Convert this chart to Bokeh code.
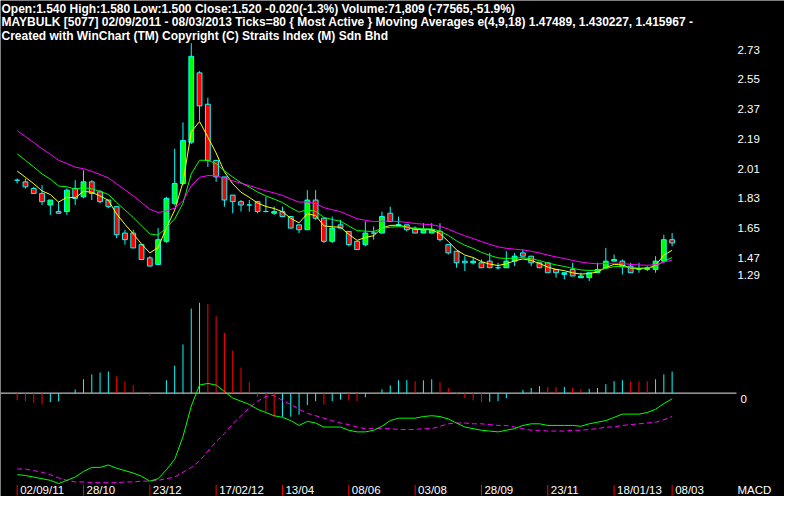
import numpy as np
from bokeh.plotting import figure
from bokeh.models import Range1d, ColumnDataSource
from bokeh.core.properties import value
from bokeh.embed import file_html
from bokeh.resources import INLINE

# ---------------- data ----------------
header_lines = [
    "Open:1.540  High:1.580  Low:1.500  Close:1.520  -0.020(-1.3%)  Volume:71,809 (-77565,-51.9%)",
    "MAYBULK [5077]  02/09/2011 - 08/03/2013  Ticks=80  { Most Active } Moving Averages e(4,9,18) 1.47489,  1.430227,  1.415967 -",
    "Created with WinChart (TM)  Copyright (C) Straits Index (M) Sdn Bhd",
]

opens = [1.90, 1.89, 1.85, 1.82, 1.75, 1.71, 1.71, 1.85, 1.80, 1.89,
         1.83, 1.78, 1.74, 1.58, 1.58, 1.51, 1.43, 1.39, 1.53, 1.76,
         1.88, 2.13, 2.55, 2.36, 2.02, 1.92, 1.81, 1.77, 1.75, 1.77,
         1.71, 1.70, 1.71, 1.68, 1.63, 1.60, 1.78, 1.67, 1.53, 1.63,
         1.59, 1.53, 1.51, 1.58, 1.58, 1.70, 1.63, 1.63, 1.61, 1.58,
         1.58, 1.59, 1.51, 1.47, 1.41, 1.40, 1.40, 1.41, 1.37, 1.37,
         1.41, 1.46, 1.44, 1.40, 1.40, 1.36, 1.33, 1.36, 1.31, 1.31,
         1.34, 1.37, 1.41, 1.41, 1.38, 1.36, 1.36, 1.36, 1.41, 1.54]
highs = [1.91, 1.91, 1.86, 1.87, 1.78, 1.77, 1.85, 1.90, 1.96, 1.90,
         1.84, 1.78, 1.74, 1.60, 1.60, 1.51, 1.44, 1.61, 1.80, 2.09,
         2.25, 2.73, 2.56, 2.40, 2.02, 1.92, 1.81, 1.78, 1.78, 1.77,
         1.80, 1.74, 1.74, 1.68, 1.63, 1.84, 1.84, 1.67, 1.68, 1.66,
         1.59, 1.53, 1.65, 1.62, 1.71, 1.74, 1.68, 1.63, 1.62, 1.64,
         1.64, 1.64, 1.51, 1.47, 1.44, 1.43, 1.42, 1.46, 1.40, 1.47,
         1.46, 1.48, 1.44, 1.40, 1.40, 1.36, 1.34, 1.40, 1.34, 1.34,
         1.40, 1.49, 1.45, 1.42, 1.40, 1.40, 1.38, 1.44, 1.57, 1.58]
lows = [1.88, 1.85, 1.82, 1.75, 1.69, 1.70, 1.69, 1.75, 1.79, 1.78,
        1.76, 1.73, 1.55, 1.51, 1.49, 1.42, 1.38, 1.39, 1.52, 1.75,
        1.87, 2.12, 2.26, 1.98, 1.89, 1.74, 1.70, 1.71, 1.71, 1.70,
        1.71, 1.69, 1.68, 1.61, 1.58, 1.60, 1.66, 1.52, 1.52, 1.61,
        1.50, 1.48, 1.50, 1.54, 1.58, 1.65, 1.62, 1.59, 1.58, 1.58,
        1.58, 1.53, 1.45, 1.37, 1.35, 1.39, 1.37, 1.37, 1.36, 1.37,
        1.38, 1.44, 1.38, 1.37, 1.34, 1.31, 1.30, 1.32, 1.31, 1.29,
        1.34, 1.37, 1.41, 1.33, 1.34, 1.34, 1.35, 1.34, 1.40, 1.50]
closes = [1.90, 1.86, 1.82, 1.77, 1.78, 1.70, 1.84, 1.79, 1.89, 1.82,
          1.77, 1.74, 1.57, 1.54, 1.49, 1.42, 1.38, 1.54, 1.79, 1.88,
          2.14, 2.65, 2.35, 2.02, 1.92, 1.78, 1.77, 1.75, 1.75, 1.71,
          1.71, 1.71, 1.68, 1.61, 1.60, 1.78, 1.67, 1.53, 1.61, 1.61,
          1.51, 1.48, 1.58, 1.58, 1.68, 1.65, 1.63, 1.60, 1.58, 1.60,
          1.60, 1.54, 1.46, 1.40, 1.40, 1.41, 1.37, 1.37, 1.37, 1.41,
          1.44, 1.44, 1.40, 1.37, 1.34, 1.34, 1.34, 1.32, 1.32, 1.34,
          1.36, 1.41, 1.42, 1.38, 1.34, 1.36, 1.37, 1.41, 1.54, 1.52]

# exponential moving averages e(4,9,18); starting levels
ema_periods = [4, 9, 18]
ema_start = [1.956, 2.060, 2.200]
ema_colors = ["#FFFF00", "#00FF00", "#FF00FF"]

macd_line = [-0.101, -0.102, -0.104, -0.106, -0.108, -0.112, -0.108, -0.104, -0.097, -0.092,
             -0.092, -0.089, -0.093, -0.096, -0.099, -0.103, -0.109, -0.106, -0.095, -0.082,
             -0.054, -0.016, 0.010, 0.012, 0.010, 0.002, -0.006, -0.010, -0.014, -0.020,
             -0.024, -0.028, -0.030, -0.034, -0.040, -0.035, -0.037, -0.042, -0.042, -0.042,
             -0.046, -0.048, -0.048, -0.046, -0.041, -0.034, -0.031, -0.031, -0.031, -0.029,
             -0.028, -0.029, -0.032, -0.037, -0.042, -0.044, -0.046, -0.047, -0.048, -0.046,
             -0.044, -0.040, -0.038, -0.038, -0.040, -0.040, -0.040, -0.040, -0.041, -0.038,
             -0.036, -0.034, -0.030, -0.026, -0.026, -0.026, -0.024, -0.020, -0.013, -0.007]
macd_signal = [-0.094, -0.094, -0.096, -0.098, -0.101, -0.105, -0.108, -0.110, -0.110, -0.111,
               -0.111, -0.111, -0.111, -0.110, -0.110, -0.109, -0.109, -0.108, -0.106, -0.104,
               -0.098, -0.092, -0.084, -0.072, -0.060, -0.050, -0.038, -0.028, -0.018, -0.010,
               -0.004, -0.003, -0.009, -0.014, -0.020, -0.025, -0.028, -0.031, -0.034, -0.037,
               -0.039, -0.042, -0.044, -0.044, -0.044, -0.044, -0.045, -0.045, -0.045, -0.044,
               -0.044, -0.041, -0.038, -0.037, -0.037, -0.038, -0.038, -0.039, -0.040, -0.040,
               -0.042, -0.044, -0.046, -0.046, -0.047, -0.047, -0.047, -0.046, -0.046, -0.045,
               -0.044, -0.042, -0.042, -0.040, -0.039, -0.038, -0.037, -0.036, -0.033, -0.029]
macd_hist = [-0.0073, -0.0083, -0.0103, -0.0117, -0.0093, -0.0083, 0.0003, 0.0037, 0.0143, 0.0193,
             0.0213, 0.0223, 0.0173, 0.0123, 0.0083, 0.0017, -0.0023, 0.0003, 0.0133, 0.0283,
             0.0503, 0.0873, 0.0933, 0.0920, 0.0793, 0.0623, 0.0440, 0.0263, 0.0113, -0.0037,
             -0.0197, -0.0250, -0.0245, -0.0243, -0.0223, -0.0123, -0.0083, -0.0117, -0.0083, -0.0067,
             -0.0077, -0.0083, -0.0043, -0.0003, 0.0040, 0.0080, 0.0133, 0.0134, 0.0123, 0.0133,
             0.0143, 0.0113, 0.0053, -0.0013, -0.0053, -0.0073, -0.0093, -0.0090, -0.0083, -0.0053,
             -0.0003, 0.0033, 0.0053, 0.0073, 0.0063, 0.0062, 0.0064, 0.0053, 0.0043, 0.0044,
             0.0053, 0.0093, 0.0123, 0.0133, 0.0123, 0.0122, 0.0121, 0.0143, 0.0193, 0.0223]

date_index = [0, 8, 16, 24, 32, 40, 48, 56, 64, 72, 79]
date_labels = ["02/09/11", "28/10", "23/12", "17/02/12", "13/04", "08/06",
               "03/08", "28/09", "23/11", "18/01/13", "08/03"]
price_ticks = [2.73, 2.55, 2.37, 2.19, 2.01, 1.83, 1.65, 1.47, 1.29]
price_tick_labels = ["2.73", "2.55", "2.37", "2.19", "2.01", "1.83", "1.65", "1.47", "1.29"]
hist_tick_labels = ["0"]
panel_label = "MACD"

# ---------------- layout geometry (reference pixels) ----------------
REF_W, REF_H = 800, 512
W, H = 784, 496
X0_PX, STEP_PX = 17.0, 8.46
PRICE_TOP_PX, PRICE_PX_PER_UNIT = 44.0, 170.5
HIST_ZERO_PX, HIST_PX_PER_UNIT = 405.3, 1000.0
MACD_ZERO_PX, MACD_PX_PER_UNIT = 405.3, 833.3
LABEL_X_PX = 752
ZERO_LINE_END_PX = 751
FONT = value("Liberation Sans")

n = len(closes)
idx = np.arange(n)
o = np.array(opens); c = np.array(closes)


def ema(vals, period, start):
    a = 2.0 / (period + 1)
    out = [start]
    for v in vals[1:]:
        out.append(a * v + (1 - a) * out[-1])
    return out


top_price = price_ticks[0]
p = figure(width=W, height=H, output_backend="svg", toolbar_location=None,
           x_axis_type=None, y_axis_type=None, min_border=0,
           x_range=Range1d(-X0_PX / STEP_PX, (REF_W - X0_PX) / STEP_PX),
           y_range=Range1d(REF_H, 0),
           background_fill_color="black", border_fill_color="black",
           outline_line_color=None)
p.extra_x_ranges = {"ref": Range1d(0, REF_W)}
p.extra_y_ranges = {
    "price": Range1d(top_price - (REF_H - PRICE_TOP_PX) / PRICE_PX_PER_UNIT,
                     top_price + PRICE_TOP_PX / PRICE_PX_PER_UNIT),
    "hist": Range1d(-(REF_H - HIST_ZERO_PX) / HIST_PX_PER_UNIT, HIST_ZERO_PX / HIST_PX_PER_UNIT),
    "macd": Range1d(-(REF_H - MACD_ZERO_PX) / MACD_PX_PER_UNIT, MACD_ZERO_PX / MACD_PX_PER_UNIT),
}
p.grid.visible = False

# ---------------- header ----------------
p.text(x=[1, 1, 1], y=[9.0, 22.6, 36.2], text=header_lines, x_range_name="ref",
       text_color="white", text_font=FONT, text_font_style="bold",
       text_font_size="12px", text_baseline="alphabetic")

# ---------------- candles ----------------
csrc = ColumnDataSource(dict(
    x=idx, h=highs, l=lows,
    top=np.maximum(o, c), bottom=np.minimum(o, c),
    fill=np.where(c >= o, "#00FF00", "#FF0000"),
))
p.segment(x0="x", x1="x", y0="l", y1="h", source=csrc, y_range_name="price",
          line_color="#00FFFF", line_width=1)
p.vbar(x="x", width=0.58, top="top", bottom="bottom", source=csrc, y_range_name="price",
       fill_color="fill", line_color="#00FFFF", line_width=1)

for period, start, col in zip(ema_periods, ema_start, ema_colors):
    p.line(idx, ema(closes, period, start), y_range_name="price", line_color=col, line_width=1)

# price labels
offs = np.where(np.array(price_ticks) == min(price_ticks), -5.6, 6.5)
p.text(x=[LABEL_X_PX] * len(price_ticks), y=price_ticks, text=price_tick_labels,
       y_offset=offs, x_range_name="ref", y_range_name="price",
       text_color="white", text_font=FONT, text_font_size="11.5px",
       text_baseline="middle", text_align="left")

# ---------------- MACD panel ----------------
h = np.array(macd_hist)
rising = np.concatenate([[False], h[1:] > h[:-1]])
p.segment(x0=[0], x1=[ZERO_LINE_END_PX], y0=[0], y1=[0], x_range_name="ref",
          y_range_name="hist", line_color="#E8E8E8", line_width=1)
p.segment(x0=idx, x1=idx, y0=np.zeros(n), y1=h, y_range_name="hist",
          line_color=np.where(rising, "#00FFFF", "#FF0000").tolist(), line_width=1)
p.line(idx, macd_signal, y_range_name="macd", line_color="#FF00FF", line_width=1,
       line_dash="5 3")
p.line(idx, macd_line, y_range_name="macd", line_color="#00FF00", line_width=1)

p.text(x=[LABEL_X_PX + 3], y=[0], text=hist_tick_labels, y_offset=6,
       x_range_name="ref", y_range_name="hist", text_color="white", text_font=FONT,
       text_font_size="11.5px", text_baseline="middle")

# date axis
p.segment(x0=date_index, x1=date_index, y0=[500] * len(date_index), y1=[511] * len(date_index),
          line_color="#FF0000", line_width=1)
p.text(x=date_index, y=[505.5] * len(date_index), text=date_labels, x_offset=3,
       text_color="white", text_font=FONT, text_font_size="11.5px",
       text_baseline="middle", text_align="left")
p.text(x=[LABEL_X_PX], y=[505.5], text=[panel_label], x_range_name="ref",
       text_color="white", text_font=FONT, text_font_size="11.5px",
       text_baseline="middle", text_align="left")

open("out.html", "w").write(file_html(p, INLINE))
